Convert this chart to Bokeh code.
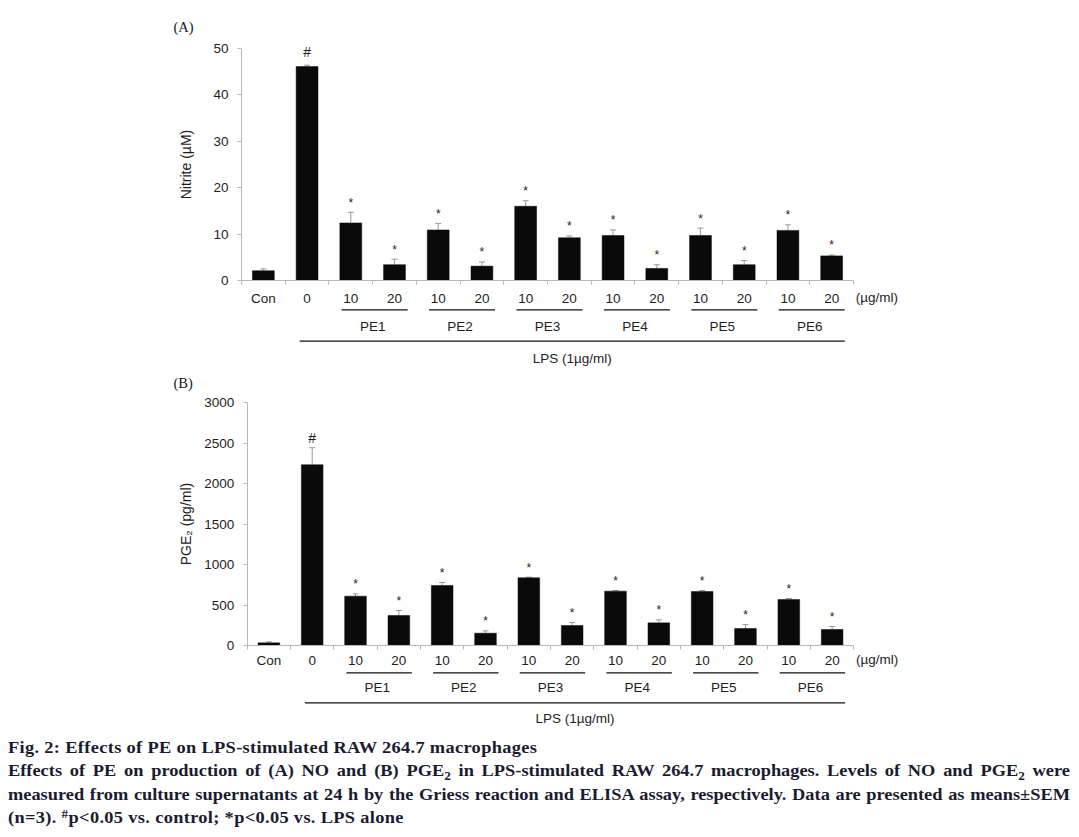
import numpy as np
from bokeh.plotting import figure
from bokeh.models import LinearAxis, FixedTicker, ColumnDataSource, Whisker, TeeHead, Div, Range1d
from bokeh.layouts import column
from bokeh.embed import file_html
from bokeh.resources import INLINE
from bokeh.core.properties import value

# ---------------- data ----------------
categories = ["Con", "0", "10", "20", "10", "20", "10", "20", "10", "20", "10", "20", "10", "20"]
groups = ["PE1", "PE2", "PE3", "PE4", "PE5", "PE6"]
marks = ["", "#", "*", "*", "*", "*", "*", "*", "*", "*", "*", "*", "*", "*"]

nitrite_mean = [2.1, 46.1, 12.4, 3.4, 10.9, 3.1, 16.0, 9.2, 9.7, 2.6, 9.7, 3.4, 10.8, 5.3]
nitrite_sem = [0.4, 0.3, 2.3, 1.2, 1.4, 0.9, 1.2, 0.4, 1.2, 0.8, 1.6, 0.9, 1.2, 0.2]

pge2_mean = [33, 2234, 610, 371, 742, 152, 837, 247, 672, 280, 668, 210, 569, 198]
pge2_sem = [12, 211, 29, 62, 37, 29, 8, 37, 8, 37, 12, 50, 12, 37]

unit_label = "(\u00b5g/ml)"
lps_label = "LPS (1\u00b5g/ml)"

# ---------------- style ----------------
FONT_NAME = "Liberation Sans"
FONT = value(FONT_NAME)
SERIF = value("Liberation Serif")
AXIS_GRAY = "#b8b8b8"
TEXT = "#1e1e1e"
BAR = "#0a0a0a"
ERR = "#9a9a9a"
FIG_W = 1071
ORIGIN = 0


def make_panel(means, sems, ymax, ystep, ylabel, ylabel_standoff, panel_label, geo):
    fig_top, fig_h = geo["fig_top"], geo["fig_h"]
    ax_x, ax_end = geo["axis_x"], geo["axis_end_x"]
    zero_y, top_y = geo["zero_y"], geo["top_y"]
    n = len(categories)
    ppu_x = (ax_end - ax_x) / n
    ppu_y = (zero_y - top_y) / ymax

    def dx(px):
        return (px - ax_x) / ppu_x

    def dy(py):
        return (zero_y - py) / ppu_y

    p = figure(width=FIG_W, height=fig_h,
               x_range=Range1d(dx(ORIGIN), dx(ORIGIN + FIG_W)),
               y_range=Range1d(dy(fig_top + fig_h), dy(fig_top)),
               x_axis_location=None, y_axis_location=None,
               toolbar_location=None, output_backend="svg", min_border=0,
               outline_line_color=None)
    p.grid.visible = False
    p.background_fill_color = "white"

    # y axis at x = 0
    yaxis = LinearAxis(fixed_location=0, bounds=(0, ymax),
                       ticker=FixedTicker(ticks=list(range(0, ymax + 1, ystep))),
                       axis_line_color=AXIS_GRAY, major_tick_line_color=AXIS_GRAY,
                       major_tick_in=0, major_tick_out=4, minor_tick_line_color=None,
                       major_label_standoff=9, major_label_text_font=FONT_NAME,
                       major_label_text_font_size="13.5px", major_label_text_color=TEXT,
                       axis_label=ylabel, axis_label_standoff=ylabel_standoff,
                       axis_label_text_font=FONT_NAME, axis_label_text_font_size="14px",
                       axis_label_text_font_style="normal", axis_label_text_color=TEXT)
    p.add_layout(yaxis, "left")

    # x axis at y = 0 (category boundary ticks)
    xaxis = LinearAxis(fixed_location=0, bounds=(0, n),
                       ticker=FixedTicker(ticks=list(range(0, n + 1))),
                       axis_line_color=AXIS_GRAY, major_tick_line_color=AXIS_GRAY,
                       major_tick_in=0, major_tick_out=4, minor_tick_line_color=None,
                       major_label_text_color=None)
    p.add_layout(xaxis, "below")

    centers = np.arange(n) + 0.5
    means = np.array(means, dtype=float)
    sems = np.array(sems, dtype=float)
    src = ColumnDataSource(dict(x=centers, top=means, upper=means + sems,
                                cat=categories, mark=marks))
    p.vbar(x="x", top="top", bottom=0, width=0.5, source=src,
           fill_color=BAR, line_color=BAR, line_width=0.5)

    p.add_layout(Whisker(source=src, base="x", lower="top", upper="upper",
                         dimension="height", line_color=ERR, line_width=1,
                         upper_head=TeeHead(size=6, line_color=ERR, line_width=1),
                         lower_head=None))

    # significance marks
    star_idx = [i for i, m in enumerate(marks) if m == "*"]
    hash_idx = [i for i, m in enumerate(marks) if m == "#"]
    p.text(x=centers[star_idx], y=(means + sems)[star_idx], text=["*"] * len(star_idx),
           text_font=FONT, text_font_size="12px", text_align="center",
           text_baseline="alphabetic", y_offset=-9.5, text_color=TEXT)
    p.text(x=centers[hash_idx], y=(means + sems)[hash_idx], text=["#"] * len(hash_idx),
           text_font=FONT, text_font_size="14px", text_align="center",
           text_baseline="alphabetic", y_offset=geo["hash_off"], text_color=TEXT)

    # category labels
    p.text(x=centers, y=[dy(geo["tick_lab_y"])] * n, text=categories,
           text_font=FONT, text_font_size="13.5px", text_align="center",
           text_baseline="middle", text_color=TEXT)
    p.text(x=[n + 0.05], y=[dy(geo["tick_lab_y"] - 1.5)], text=[unit_label],
           text_font=FONT, text_font_size="13.5px", text_align="left",
           text_baseline="middle", text_color=TEXT)

    # group brackets
    g0 = np.arange(len(groups)) * 2 + 2
    p.segment(x0=g0 + 0.29, x1=g0 + 1.8, y0=[dy(geo["grp_line_y"])] * len(groups),
              y1=[dy(geo["grp_line_y"])] * len(groups), line_color="#111", line_width=1.2)
    p.text(x=g0 + 1.0, y=[dy(geo["grp_lab_y"])] * len(groups), text=groups,
           text_font=FONT, text_font_size="13.5px", text_align="center",
           text_baseline="middle", text_color=TEXT)

    lps_x0, lps_x1 = 1.33, 13.8
    p.segment(x0=[lps_x0], x1=[lps_x1], y0=[dy(geo["lps_line_y"])], y1=[dy(geo["lps_line_y"])],
              line_color="#111", line_width=1.2)
    p.text(x=[(lps_x0 + lps_x1) / 2], y=[dy(geo["lps_lab_y"])], text=[lps_label],
           text_font=FONT, text_font_size="13.5px", text_align="center",
           text_baseline="middle", text_color=TEXT)

    # panel label
    p.text(x=[dx(173)], y=[dy(geo["panel_lab_y"])], text=[panel_label],
           text_font=SERIF, text_font_size="14.5px", text_align="left",
           text_baseline="middle", text_color="#141428")
    return p


geoA = dict(fig_top=0, fig_h=370, axis_x=241, axis_end_x=853, zero_y=280, top_y=48,
            tick_lab_y=298.3, grp_line_y=309.3, grp_lab_y=325.7, lps_line_y=340.7,
            lps_lab_y=357.7, panel_lab_y=26.7, hash_off=-13)
geoB = dict(fig_top=370, fig_h=360, axis_x=246.7, axis_end_x=853.3, zero_y=645, top_y=402.3,
            tick_lab_y=660, grp_line_y=672.3, grp_lab_y=686.7, lps_line_y=702.3,
            lps_lab_y=718.3, panel_lab_y=382, hash_off=-10)

pA = make_panel(nitrite_mean, nitrite_sem, 50, 10, "Nitrite (\u00b5M)", 16, "(A)", geoA)
pB = make_panel(pge2_mean, pge2_sem, 3000, 500, "PGE\u2082 (pg/ml)", 7, "(B)", geoB)

STRETCH = 1.12
inner_w = round(1062 / STRETCH, 1)
sub = '<span style="font-size:0.72em;vertical-align:-0.35em;line-height:0">2</span>'
sup = '<span style="font-size:0.72em;vertical-align:0.45em;line-height:0">#</span>'
just = "white-space:nowrap;text-align:justify;text-align-last:justify;"
left = "white-space:nowrap;text-align:left;letter-spacing:0.3px;"
caption_html = (
    f'<div style="font-family:\'Liberation Serif\';font-weight:bold;font-size:16.4px;'
    f'line-height:23.3px;color:#1b1b30;width:{inner_w}px;padding-top:6px;margin-left:8px;'
    f'transform:scaleX({STRETCH});transform-origin:0 0;">'
    f'<div style="{left}">Fig. 2: Effects of PE on LPS-stimulated RAW 264.7 macrophages</div>'
    f'<div style="{just}">Effects of PE on production of (A) NO and (B) PGE{sub} in LPS-stimulated RAW 264.7 macrophages. Levels of NO and PGE{sub} were</div>'
    f'<div style="{just}">measured from culture supernatants at 24 h by the Griess reaction and ELISA assay, respectively. Data are presented as means\u00b1SEM</div>'
    f'<div style="{left}">(n=3). {sup}p&lt;0.05 vs. control; *p&lt;0.05 vs. LPS alone</div>'
    '</div>'
)
caption = Div(text=caption_html, width=FIG_W, height=99, margin=(0, 0, 0, 0))

layout = column(pA, pB, caption, spacing=0)
open("out.html", "w").write(file_html(layout, INLINE))
